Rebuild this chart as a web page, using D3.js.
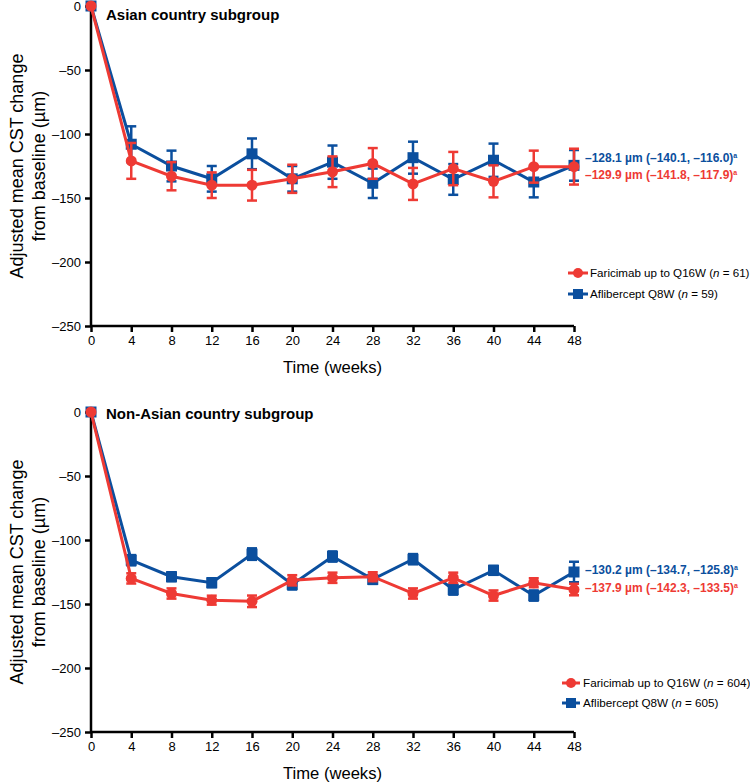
<!DOCTYPE html>
<html>
<head>
<meta charset="utf-8">
<script src="https://cdn.jsdelivr.net/npm/d3@7"></script>
<style>
  body { margin: 0; background: #fff; }
  svg { font-family: Arial, "Liberation Sans", sans-serif; }
</style>
</head>
<body>
<script>
const weeks = [0, 4, 8, 12, 16, 20, 24, 28, 32, 36, 40, 44, 48];
const yTicks = [0, -50, -100, -150, -200, -250];

// Asian country subgroup
const asianFari = [0, -121, -133, -140, -140, -135, -129.5, -123, -139, -127, -137, -125.5, -125.5];
const asianFariErr = [0, 14, 11, 10, 12, 11, 12, 12, 12.5, 13, 12.5, 12.5, 14];
const asianAfli = [0, -108, -125, -135, -115.5, -135, -122, -138.5, -118.5, -135.5, -120.5, -137.5, -124.5];
const asianAfliErr = [0, 14, 12, 10, 12, 10, 13, 11.5, 12.5, 12, 13, 12, 12];

// Non-Asian country subgroup
const nonAsianFari = [0, -130, -141.8, -147, -147.9, -131.5, -129.5, -128.7, -141.8, -129.5, -143.4, -133.4, -138.7];
const nonAsianFariErr = [0, 4, 4, 3.5, 4.5, 4, 4, 3.5, 4, 4, 4, 3.5, 4.5];
const nonAsianAfli = [0, -115.8, -128.7, -133.4, -111, -134.7, -112.9, -130.8, -115, -138.7, -123.7, -143.4, -125];
const nonAsianAfliErr = [0, 4, 3.5, 3.5, 4.5, 4, 4, 3.5, 4, 4, 3.5, 4, 8];

const red = '#ee3a34';
const blue = '#0b4f9e';

const panels = [
  {
    title: 'Asian country subgroup', top: 6, titleY: 20,
    fari: asianFari, fariErr: asianFariErr, afli: asianAfli, afliErr: asianAfliErr,
    blueNote: '\u2013128.1 \u00b5m (\u2013140.1, \u2013116.0)', redNote: '\u2013129.9 \u00b5m (\u2013141.8, \u2013117.9)',
    noteY: [162, 179],
    fariLabel: ['Faricimab up to Q16W (', 'n', ' = 61)'], afliLabel: ['Aflibercept Q8W (', 'n', ' = 59)'],
    legendY: [273, 294], legendLine: [568, 588], legendText: 590, legendSize: 11.6
  },
  {
    title: 'Non-Asian country subgroup', top: 412, titleY: 419,
    fari: nonAsianFari, fariErr: nonAsianFariErr, afli: nonAsianAfli, afliErr: nonAsianAfliErr,
    blueNote: '\u2013130.2 \u00b5m (\u2013134.7, \u2013125.8)', redNote: '\u2013137.9 \u00b5m (\u2013142.3, \u2013133.5)',
    noteY: [574, 592],
    fariLabel: ['Faricimab up to Q16W (', 'n', ' = 604)'], afliLabel: ['Aflibercept Q8W (', 'n', ' = 605)'],
    legendY: [683, 703], legendLine: [562, 580], legendText: 583, legendSize: 11.7
  }
];

const svg = d3.select('body').append('svg')
  .attr('width', 750)
  .attr('height', 783);

const plotLeft = 91, plotRight = 574, plotH = 320;
const x = d3.scaleLinear().domain([0, 48]).range([plotLeft, plotRight]);

panels.forEach((p) => {
  const y = d3.scaleLinear().domain([0, -250]).range([p.top, p.top + plotH]);
  const g = svg.append('g');

  // axes
  const yAxis = g.append('g')
    .attr('transform', `translate(${plotLeft},0)`)
    .call(d3.axisLeft(y).tickValues(yTicks).tickSize(6).tickPadding(4)
      .tickFormat((d) => d === 0 ? '0' : '\u2013' + Math.abs(d)));
  const xAxis = g.append('g')
    .attr('transform', `translate(0,${p.top + plotH})`)
    .call(d3.axisBottom(x).tickValues(weeks).tickSize(6).tickPadding(4));
  [xAxis, yAxis].forEach((a) => {
    a.select('.domain').attr('stroke', '#000').attr('stroke-width', 2.5)
      .attr('d', a === xAxis ? `M${plotLeft},0H${plotRight}` : `M0,${p.top}V${p.top + plotH}`);
    a.selectAll('.tick line').attr('stroke', '#000').attr('stroke-width', 2.5);
    a.selectAll('.tick text').attr('fill', '#000').style('font-size', '13px');
  });

  g.append('text')
    .attr('x', (plotLeft + plotRight) / 2).attr('y', p.top + plotH + 47)
    .attr('text-anchor', 'middle').style('font-size', '17px')
    .attr('textLength', 99).attr('lengthAdjust', 'spacingAndGlyphs')
    .text('Time (weeks)');

  const yt = g.append('text')
    .attr('transform', `translate(0,${p.top + 160}) rotate(-90)`)
    .attr('text-anchor', 'middle').style('font-size', '18px');
  yt.append('tspan').attr('x', 0).attr('y', 23).text('Adjusted mean CST change');
  yt.append('tspan').attr('x', 0).attr('y', 45).text('from baseline (\u00b5m)');

  g.append('text')
    .attr('x', 106).attr('y', p.titleY)
    .style('font-size', '15px').style('font-weight', 'bold')
    .text(p.title);

  const series = [
    { vals: p.afli, err: p.afliErr, color: blue, shape: 'square' },
    { vals: p.fari, err: p.fariErr, color: red, shape: 'circle' }
  ];

  series.forEach((s) => {
    const pts = weeks.map((w, i) => ({ w, v: s.vals[i], e: s.err[i] }));
    const sg = g.append('g');
    sg.append('path')
      .datum(pts)
      .attr('fill', 'none').attr('stroke', s.color).attr('stroke-width', 3)
      .attr('d', d3.line().x((d) => x(d.w)).y((d) => y(d.v)));

    const eb = sg.selectAll('.eb').data(pts.filter((d) => d.e > 0)).join('g')
      .attr('stroke', s.color).attr('stroke-width', 2.5);
    eb.append('line')
      .attr('x1', (d) => x(d.w)).attr('x2', (d) => x(d.w))
      .attr('y1', (d) => y(d.v - d.e)).attr('y2', (d) => y(d.v + d.e));
    eb.append('line')
      .attr('x1', (d) => x(d.w) - 5).attr('x2', (d) => x(d.w) + 5)
      .attr('y1', (d) => y(d.v + d.e)).attr('y2', (d) => y(d.v + d.e));
    eb.append('line')
      .attr('x1', (d) => x(d.w) - 5).attr('x2', (d) => x(d.w) + 5)
      .attr('y1', (d) => y(d.v - d.e)).attr('y2', (d) => y(d.v - d.e));

    if (s.shape === 'square') {
      sg.selectAll('rect').data(pts).join('rect')
        .attr('x', (d) => x(d.w) - 5.5).attr('y', (d) => y(d.v) - 5.5)
        .attr('width', 11).attr('height', 11).attr('fill', s.color);
    } else {
      sg.selectAll('circle').data(pts).join('circle')
        .attr('cx', (d) => x(d.w)).attr('cy', (d) => y(d.v))
        .attr('r', 5.5).attr('fill', s.color);
    }
  });

  // end-point annotations
  [[p.blueNote, blue, p.noteY[0]], [p.redNote, red, p.noteY[1]]].forEach(([t, c, ty]) => {
    const tx = g.append('text').attr('x', 585).attr('y', ty)
      .attr('fill', c).style('font-size', '12px').style('font-weight', 'bold');
    tx.append('tspan').text(t);
    tx.append('tspan').attr('dy', -4).style('font-size', '7px').text('a');
  });

  // legend
  [[p.fariLabel, red, 'circle', p.legendY[0]],
   [p.afliLabel, blue, 'square', p.legendY[1]]].forEach(([lab, c, shape, ly]) => {
    const lg = g.append('g');
    const [lx1, lx2] = p.legendLine;
    const cx = (lx1 + lx2) / 2;
    lg.append('line').attr('x1', lx1).attr('x2', lx2).attr('y1', ly).attr('y2', ly)
      .attr('stroke', c).attr('stroke-width', 3);
    if (shape === 'circle') {
      lg.append('circle').attr('cx', cx).attr('cy', ly).attr('r', 5).attr('fill', c);
    } else {
      lg.append('rect').attr('x', cx - 5).attr('y', ly - 5).attr('width', 10).attr('height', 10).attr('fill', c);
    }
    const t = lg.append('text').attr('x', p.legendText).attr('y', ly + 4.2)
      .style('font-size', p.legendSize + 'px').attr('fill', '#000');
    t.append('tspan').text(lab[0]);
    t.append('tspan').style('font-style', 'italic').text(lab[1]);
    t.append('tspan').text(lab[2]);
  });
});
</script>
</body>
</html>
